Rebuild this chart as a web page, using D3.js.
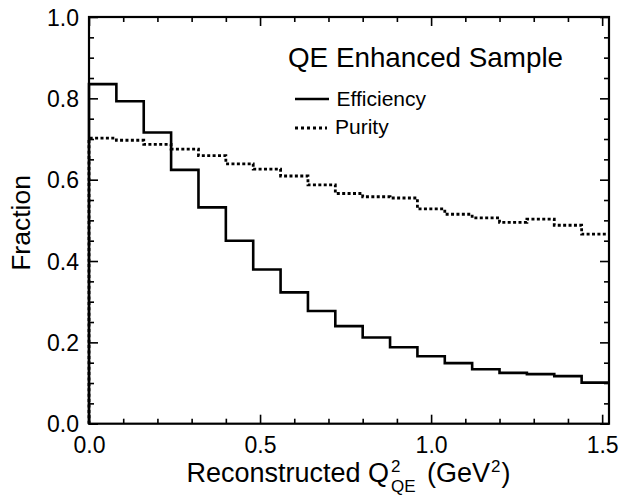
<!DOCTYPE html>
<html>
<head>
<meta charset="utf-8">
<script src="https://cdn.jsdelivr.net/npm/d3@7"></script>
<style>
  html, body { margin: 0; padding: 0; background: #fff; }
  text { font-family: "Liberation Sans", Arial, Helvetica, sans-serif; fill: #000; }
</style>
</head>
<body>
<svg id="chart" width="621" height="495"></svg>
<script>
// ---- data ----
const binEdges = [0.00, 0.08, 0.16, 0.24, 0.32, 0.40, 0.48, 0.56, 0.64, 0.72, 0.80,
                  0.88, 0.96, 1.04, 1.12, 1.20, 1.28, 1.36, 1.44, 1.52];
const efficiency = [0.835, 0.793, 0.716, 0.624, 0.532, 0.450, 0.379, 0.323, 0.277, 0.240,
                    0.212, 0.188, 0.166, 0.149, 0.134, 0.125, 0.122, 0.117, 0.101];
const purity = [0.702, 0.697, 0.687, 0.675, 0.659, 0.639, 0.626, 0.609, 0.587, 0.566,
                0.558, 0.555, 0.528, 0.515, 0.506, 0.495, 0.503, 0.488, 0.466];
const xMajorTicks = [0.0, 0.5, 1.0, 1.5];
const xTickLabels = ["0.0", "0.5", "1.0", "1.5"];
const yMajorTicks = [0.0, 0.2, 0.4, 0.6, 0.8, 1.0];
const yTickLabels = ["0.0", "0.2", "0.4", "0.6", "0.8", "1.0"];
const xMinorTicks = [0.1, 0.2, 0.3, 0.4, 0.6, 0.7, 0.8, 0.9, 1.1, 1.2, 1.3, 1.4];
const yMinorTicks = [0.05, 0.1, 0.15, 0.25, 0.3, 0.35, 0.45, 0.5, 0.55, 0.65, 0.7, 0.75, 0.85, 0.9, 0.95];
const legendTitle = "QE Enhanced Sample";
const seriesNames = ["Efficiency", "Purity"];

// ---- layout ----
const L = 89, R = 609, T = 17, B = 423.7;
const svg = d3.select("#chart");
const x = d3.scaleLinear().domain([0, 1.52]).range([L, R]);
const y = d3.scaleLinear().domain([0, 1]).range([B, T]);

const FW = 2.2;
const majorLen = 9, minorLen = 5;
const DOTS = "3,2.4";

function styleAxis(g) {
  g.select(".domain").remove();
  g.selectAll(".tick line").attr("stroke", "#000").attr("stroke-width", 1.6);
}
// bottom
svg.append("g").attr("transform", `translate(0,${B})`)
  .call(d3.axisBottom(x).tickValues(xMajorTicks).tickSize(-majorLen)
        .tickFormat((d, i) => xTickLabels[i]))
  .call(styleAxis)
  .call(g => g.selectAll(".tick text").attr("font-size", 23)
        .attr("y", 13).attr("dy", "0.71em").attr("font-family", "Liberation Sans, Arial, sans-serif"));
svg.append("g").attr("transform", `translate(0,${B})`)
  .call(d3.axisBottom(x).tickValues(xMinorTicks).tickSize(-minorLen).tickFormat(""))
  .call(styleAxis);
// top
svg.append("g").attr("transform", `translate(0,${T})`)
  .call(d3.axisTop(x).tickValues(xMajorTicks).tickSize(-majorLen).tickFormat(""))
  .call(styleAxis);
svg.append("g").attr("transform", `translate(0,${T})`)
  .call(d3.axisTop(x).tickValues(xMinorTicks).tickSize(-minorLen).tickFormat(""))
  .call(styleAxis);
// left
svg.append("g").attr("transform", `translate(${L},0)`)
  .call(d3.axisLeft(y).tickValues(yMajorTicks).tickSize(-majorLen)
        .tickFormat((d, i) => yTickLabels[i]))
  .call(styleAxis)
  .call(g => g.selectAll(".tick text").attr("font-size", 23)
        .attr("x", -10).attr("dy", "0.36em").attr("font-family", "Liberation Sans, Arial, sans-serif"));
svg.append("g").attr("transform", `translate(${L},0)`)
  .call(d3.axisLeft(y).tickValues(yMinorTicks).tickSize(-minorLen).tickFormat(""))
  .call(styleAxis);
// right
svg.append("g").attr("transform", `translate(${R},0)`)
  .call(d3.axisRight(y).tickValues(yMajorTicks).tickSize(-majorLen).tickFormat(""))
  .call(styleAxis);
svg.append("g").attr("transform", `translate(${R},0)`)
  .call(d3.axisRight(y).tickValues(yMinorTicks).tickSize(-minorLen).tickFormat(""))
  .call(styleAxis);

// histograms
function stepPoints(vals) {
  const pts = [[binEdges[0], 0]];
  vals.forEach((v, i) => pts.push([binEdges[i], v]));
  pts.push([binEdges[binEdges.length - 1], vals[vals.length - 1]]);
  return pts;
}
const line = d3.line().x(d => x(d[0])).y(d => y(d[1])).curve(d3.curveStepAfter);

svg.append("path").attr("d", line(stepPoints(purity)))
  .attr("fill", "none").attr("stroke", "#000").attr("stroke-width", 2.8)
  .attr("stroke-dasharray", DOTS);
svg.append("path").attr("d", line(stepPoints(efficiency)))
  .attr("fill", "none").attr("stroke", "#000").attr("stroke-width", 2.6);

// frame
svg.append("rect").attr("x", L).attr("y", T).attr("width", R - L).attr("height", B - T)
  .attr("fill", "none").attr("stroke", "#000").attr("stroke-width", FW);

// legend
svg.append("text").attr("x", 288).attr("y", 67).attr("font-size", 27.8).text(legendTitle);
svg.append("line").attr("x1", 295).attr("x2", 329).attr("y1", 99).attr("y2", 99)
  .attr("stroke", "#000").attr("stroke-width", 2.6);
svg.append("text").attr("x", 336.5).attr("y", 105.5).attr("font-size", 21).text(seriesNames[0]);
svg.append("line").attr("x1", 295).attr("x2", 327).attr("y1", 128).attr("y2", 128)
  .attr("stroke", "#000").attr("stroke-width", 2.8).attr("stroke-dasharray", "3,3");
svg.append("text").attr("x", 335).attr("y", 134).attr("font-size", 21).text(seriesNames[1]);

// y title
svg.append("text").attr("transform", "translate(30,223) rotate(-90)")
  .attr("text-anchor", "middle").attr("font-size", 26.5).text("Fraction");

// x title with super/subscripts
const xt = svg.append("g");
const base = 482, fsMain = 27, fsSmall = 17;
let cx = 0;
function addText(str, size, dy) {
  const t = xt.append("text").attr("x", cx).attr("y", base + dy).attr("font-size", size).text(str);
  return t.node().getComputedTextLength();
}
cx += addText("Reconstructed\u00a0Q", fsMain, 0) + 2;
const wSup = addText("2", fsSmall, -10);
const wSub = addText("QE", fsSmall, 9.5);
cx += Math.max(wSup, wSub) + 4;
cx += addText("\u00a0(GeV", fsMain, 0) + 1;
cx += addText("2", fsSmall, -10) + 1;
cx += addText(")", fsMain, 0);
xt.attr("transform", `translate(${(L + R) / 2 - cx / 2 - 0.5},0)`);
</script>
</body>
</html>
